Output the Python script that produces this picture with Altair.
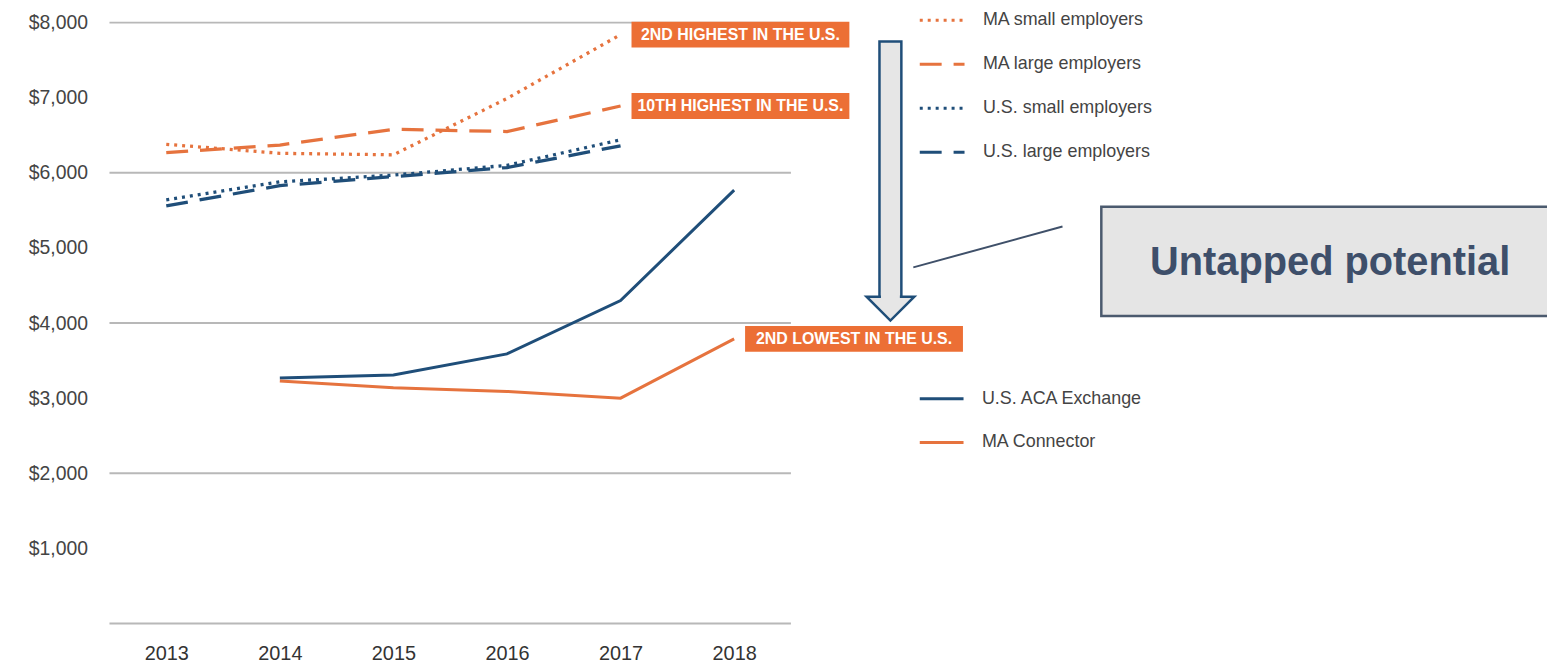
import altair as alt
import pandas as pd

# ---- data ----
YEARS_EMP = [2013, 2014, 2015, 2016, 2017]
MA_SMALL = [6380, 6260, 6240, 6990, 7840]
MA_LARGE = [6270, 6370, 6580, 6550, 6890]
US_SMALL = [5640, 5880, 5970, 6100, 6440]
US_LARGE = [5560, 5830, 5950, 6070, 6360]

YEARS_EX = [2014, 2015, 2016, 2017, 2018]
US_ACA = [3270, 3310, 3590, 4300, 5770]
MA_CONN = [3230, 3140, 3090, 3000, 3790]

SERIES_EMP = ["MA small employers", "MA large employers",
              "U.S. small employers", "U.S. large employers"]
SERIES_EX = ["U.S. ACA Exchange", "MA Connector"]

GRID_VALUES = [0, 2000, 4000, 6000, 8000]
LABEL_VALUES = [1000, 2000, 3000, 4000, 5000, 6000, 7000, 8000]

NOTE_YEARS = [2017, 2017, 2018]
NOTE_VALUES = [7840, 6890, 3790]
NOTE_TEXTS = ["2ND HIGHEST IN THE U.S.", "10TH HIGHEST IN THE U.S.", "2ND LOWEST IN THE U.S."]

CALLOUT = "Untapped potential"

ORANGE = "#E6733E"
NAVY = "#1F4E79"
NARROW = "Liberation Sans Narrow, Liberation Sans, Arial"
SANS = "Liberation Sans, Arial"

emp_rows = []
for name, vals in zip(SERIES_EMP, [MA_SMALL, MA_LARGE, US_SMALL, US_LARGE]):
    for yr, v in zip(YEARS_EMP, vals):
        emp_rows.append({"year": yr, "v": v, "series": name})
emp_df = pd.DataFrame(emp_rows)

ex_rows = []
for name, vals in zip(SERIES_EX, [US_ACA, MA_CONN]):
    for yr, v in zip(YEARS_EX, vals):
        ex_rows.append({"year": yr, "v": v, "series": name})
ex_df = pd.DataFrame(ex_rows)

grid_df = pd.DataFrame({"v": GRID_VALUES})
note_df = pd.DataFrame({"year": NOTE_YEARS, "v": NOTE_VALUES, "t": NOTE_TEXTS})
dummy = pd.DataFrame({"a": [0]})

x_enc = alt.X("year:O", scale=alt.Scale(type="point", padding=0.5),
              axis=alt.Axis(title=None, labelAngle=0, ticks=False, domain=False, grid=False,
                            labelFontSize=20, labelFont=NARROW, labelColor="#333",
                            labelPadding=20))
y_enc = alt.Y("v:Q", scale=alt.Scale(domain=[0, 8000], nice=False, zero=True),
              axis=alt.Axis(title=None, values=LABEL_VALUES,
                            labelExpr="'$' + format(datum.value, ',')",
                            ticks=False, domain=False, grid=False,
                            labelFontSize=19.5, labelFont=NARROW, labelColor="#444",
                            labelPadding=22))

grid = alt.Chart(grid_df).mark_rule(color="#b8b8b8", strokeWidth=2).encode(y=y_enc)

leg_top = alt.Legend(orient="none", legendX=813, legendY=-26.5, title=None,
                     symbolType="stroke", symbolSize=2025, symbolStrokeWidth=3,
                     labelFontSize=18, labelFont=SANS, labelColor="#444", labelLimit=0,
                     rowPadding=11.3, padding=0, labelOffset=17)
leg_bot = alt.Legend(orient="none", legendX=813, legendY=354.5, title=None,
                     symbolType="stroke", symbolSize=1936, symbolStrokeWidth=3,
                     labelFontSize=18, labelFont=SANS, labelColor="#444", labelLimit=0,
                     rowPadding=11, padding=0, labelOffset=17)

emp = alt.Chart(emp_df).mark_line(strokeWidth=3.3).encode(
    x=x_enc, y=y_enc,
    color=alt.Color("series:N", scale=alt.Scale(domain=SERIES_EMP,
                    range=[ORANGE, ORANGE, NAVY, NAVY]), legend=leg_top),
    strokeDash=alt.StrokeDash("series:N", scale=alt.Scale(domain=SERIES_EMP,
                    range=[[3, 5], [22, 12], [3, 5], [22, 12]]), legend=leg_top),
)

ex = alt.Chart(ex_df).mark_line(strokeWidth=3).encode(
    x=x_enc, y=y_enc,
    color=alt.Color("series:N", scale=alt.Scale(domain=SERIES_EX, range=[NAVY, ORANGE]),
                    legend=leg_bot),
)

note_box = alt.Chart(note_df).mark_rect(color="#EC6F35", xOffset=11, x2Offset=230,
                                        yOffset=-13, y2Offset=13).encode(
    x=x_enc, x2="year", y=y_enc, y2="v")
note_txt = alt.Chart(note_df).mark_text(color="white", fontWeight="bold", fontSize=16,
                                        font=NARROW, align="center", baseline="middle",
                                        xOffset=120.5).encode(
    x=x_enc, y=y_enc, text="t:N")

# decorative arrow and callout (pixel positions relative to plot area)
DX = 5
shaft = alt.Chart(dummy).mark_rect(fill="#e6e6e6", stroke=NAVY, strokeWidth=2.5).encode(
    x=alt.value(769 + DX), x2=alt.value(791 + DX), y=alt.value(19), y2=alt.value(277))
head = alt.Chart(dummy).mark_point(
    shape="M-1,-0.5L1,-0.5L0,0.5Z", filled=True, fill="#e6e6e6", stroke=NAVY,
    strokeWidth=2.5, opacity=1, fillOpacity=1, size=2304).encode(
    x=alt.value(780 + DX), y=alt.value(287.5))
joint = alt.Chart(dummy).mark_rect(fill="#e6e6e6").encode(
    x=alt.value(770.5 + DX), x2=alt.value(789.5 + DX), y=alt.value(270), y2=alt.value(281))
connector = alt.Chart(dummy).mark_rule(color="#3f5069", strokeWidth=2).encode(
    x=alt.value(803 + DX), x2=alt.value(953 + DX), y=alt.value(246), y2=alt.value(205))
callout_box = alt.Chart(dummy).mark_rect(fill="#e5e5e5", stroke="#4b5a6e", strokeWidth=2.5).encode(
    x=alt.value(992 + DX), x2=alt.value(1500), y=alt.value(185), y2=alt.value(295))
callout_txt = alt.Chart(dummy).mark_text(fontSize=40, fontWeight="bold", font=NARROW,
                                         color="#3e4f6a", align="center", baseline="middle").encode(
    x=alt.value(1222 + DX), y=alt.value(242), text=alt.value(CALLOUT))

chart = alt.layer(
    grid, emp, ex, note_box, note_txt,
    shaft, head, joint, connector, callout_box, callout_txt
).resolve_scale(
    color="independent", strokeDash="independent"
).resolve_legend(
    color="independent", strokeDash="independent"
).properties(
    width=685, height=604,
    autosize=alt.AutoSizeParams(type="none"),
    padding={"left": 102, "top": 13, "right": 760, "bottom": 39},
    background="white",
).configure_view(stroke=None)

chart.save("out.html", embed_options={"renderer": "svg", "actions": False})
